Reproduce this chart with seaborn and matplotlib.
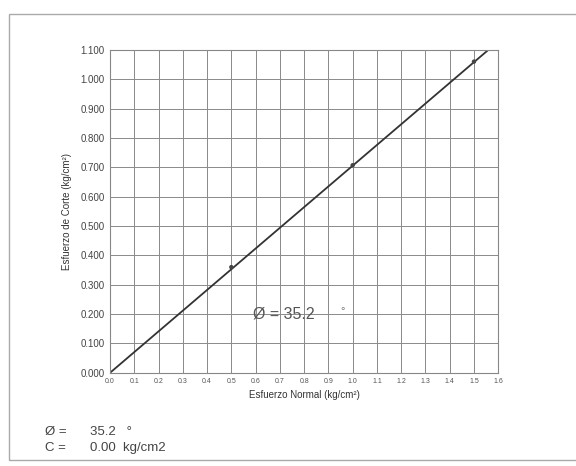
import numpy as np
import pandas as pd
import matplotlib
matplotlib.use("Agg")
import matplotlib.pyplot as plt
import seaborn as sns
from matplotlib.patches import Rectangle

# ensayo de corte directo: esfuerzo normal vs esfuerzo de corte
normal = [0.5, 1.0, 1.5]
corte = [0.360, 0.707, 1.060]
phi = 35.2
c = 0.00
x_ticks = [round(0.1 * i, 1) for i in range(17)]
y_ticks = [round(0.1 * i, 1) for i in range(12)]

sns.set_style("white")
plt.rcParams['font.family'] = ['Liberation Sans', 'DejaVu Sans']

fig = plt.figure(figsize=(5.76, 4.66), dpi=100)
ax = fig.add_axes([0.191, 0.200, 0.674, 0.693])

# recta de falla (Mohr-Coulomb), hasta donde corta el tope del grafico
x_end = (1.1 - c) / np.tan(np.radians(phi))
recta = pd.DataFrame({'x': [0.0, x_end], 'y': [c, c + np.tan(np.radians(phi)) * x_end]})
sns.lineplot(data=recta, x='x', y='y', ax=ax, color='#333333', linewidth=1.3)
sns.scatterplot(x=normal, y=corte, ax=ax, color='#444444', s=10, edgecolor='none', zorder=3)

ax.set_xlim(0, 1.6)
ax.set_ylim(0, 1.1)
ax.set_xticks(x_ticks)
ax.set_yticks(y_ticks)
ax.set_xticklabels([f"{v:.1f}" for v in x_ticks], fontsize=5, color='#555555')
ax.set_yticklabels([f"{v:.3f}" for v in y_ticks], fontsize=7, color='#444444')
ax.grid(True, color='#8a8a8a', linewidth=0.7)
for s in ax.spines.values():
    s.set_color('#888888')
    s.set_linewidth(0.8)
ax.tick_params(length=0, pad=4)

ax.set_xlabel("Esfuerzo Normal (kg/cm²)", fontsize=7, color='#333333', labelpad=3)
ax.set_ylabel("Esfuerzo de Corte (kg/cm²)", fontsize=7, color='#333333', labelpad=6)

ax.text(0.59, 0.20, f"Ø = {phi}", fontsize=11.5, color='#555555', va='center')
ax.text(0.95, 0.21, "°", fontsize=8, color='#777777', va='center')

fig.text(0.078, 0.073, "Ø =", fontsize=9.5, color='#444444', va='center')
fig.text(0.157, 0.073, f"{phi}   °", fontsize=9.5, color='#444444', va='center')
fig.text(0.078, 0.039, "C =", fontsize=9.5, color='#444444', va='center')
fig.text(0.157, 0.039, f"{c:.2f}  kg/cm2", fontsize=9.5, color='#444444', va='center')

# marco de la hoja escaneada
fig.patches.append(Rectangle((0.016, 0.012), 1.2, 0.958, transform=fig.transFigure,
                             fill=False, edgecolor='#aaaaaa', linewidth=1.0))

fig.savefig("out.png", dpi=100)
